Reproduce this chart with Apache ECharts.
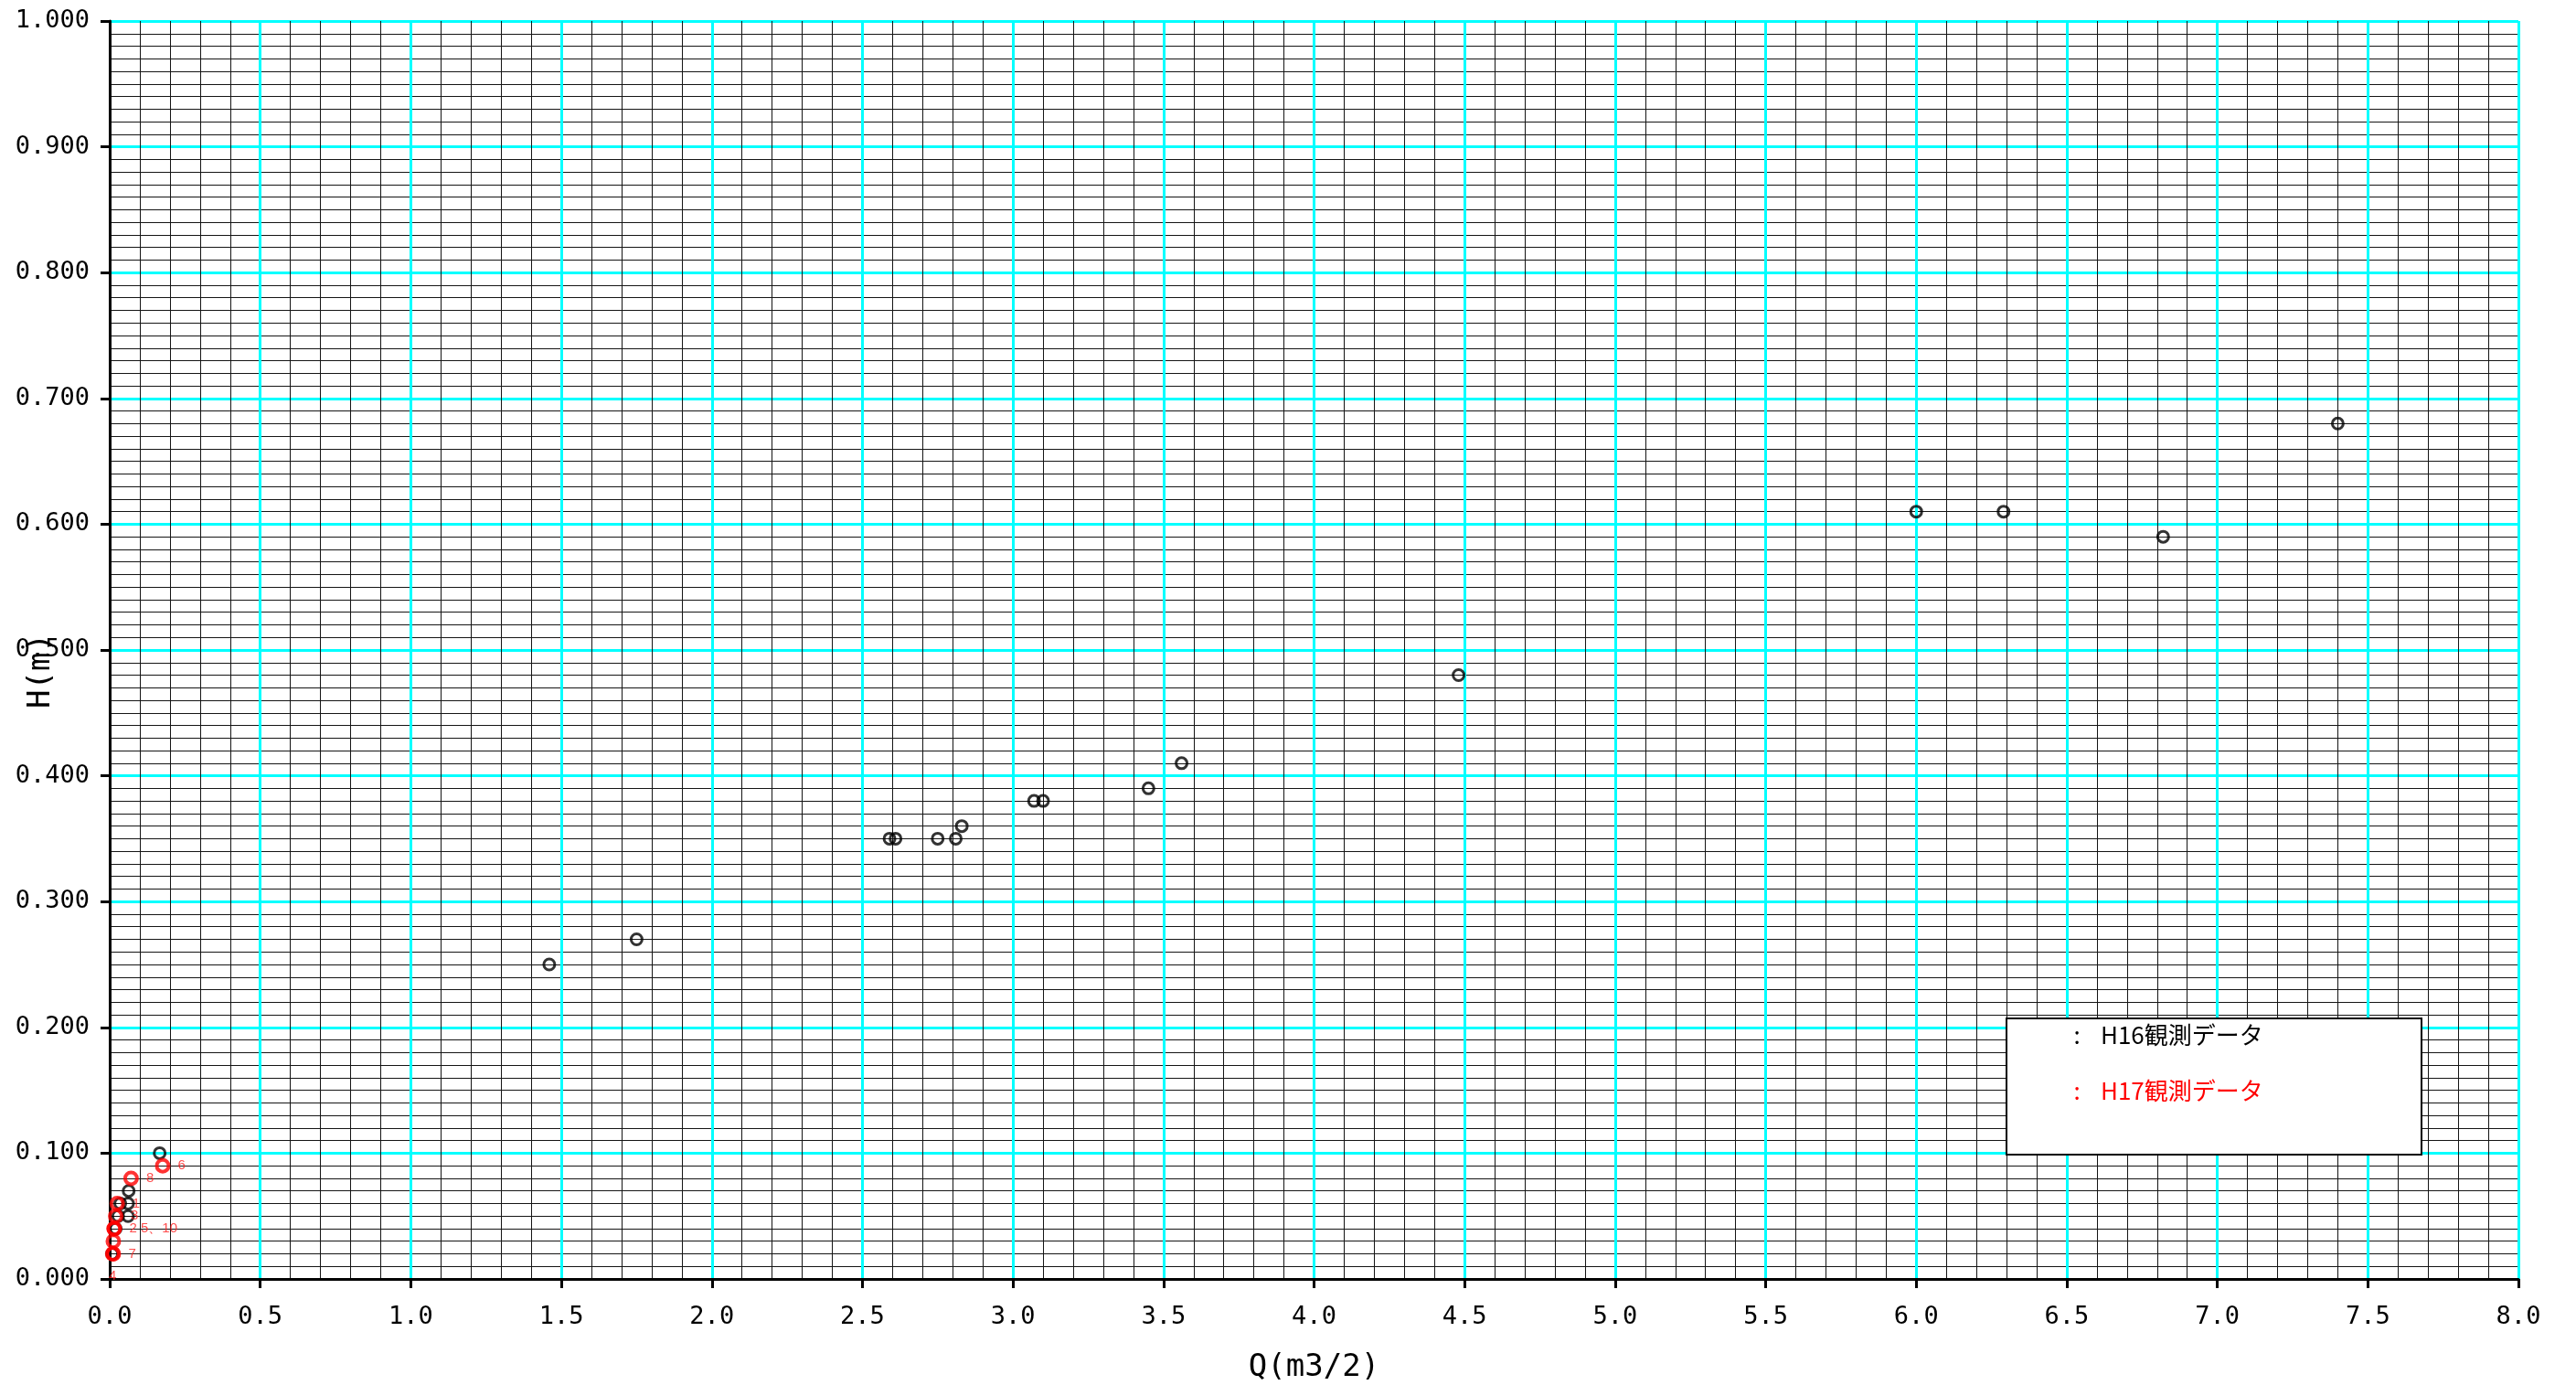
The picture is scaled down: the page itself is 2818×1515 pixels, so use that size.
<!DOCTYPE html>
<html>
<head>
<meta charset="utf-8">
<script src="https://cdn.jsdelivr.net/npm/echarts@6/dist/echarts.min.js"></script>
<style>html,body{margin:0;padding:0;background:#fff;}#c{width:2818px;height:1515px;}</style>
</head>
<body>
<div id="c"></div>
<script>
// H16 observed data (Q, H)
const h16Q = [1.46, 1.75, 2.59, 2.61, 2.75, 2.81, 2.83, 3.07, 3.10, 3.45, 3.56, 4.48, 6.00, 6.29, 6.82, 7.40, 0.166, 0.063, 0.035, 0.061, 0.028, 0.061, 0.02, 0.008];
const h16H = [0.25, 0.27, 0.35, 0.35, 0.35, 0.35, 0.36, 0.38, 0.38, 0.39, 0.41, 0.48, 0.61, 0.61, 0.59, 0.68, 0.10, 0.07, 0.06, 0.06, 0.05, 0.05, 0.04, 0.02];
// H17 observed data (Q, H) with point numbers
const h17Q = [0.025, 0.015, 0.02, 0.01, 0.015, 0.176, 0.012, 0.071, 0.012];
const h17H = [0.06, 0.04, 0.05, 0.02, 0.04, 0.09, 0.02, 0.08, 0.03];
const h17Labels = ['1', '2 5、10', '3', '4', '', '6', '7', '8', ''];
// axis settings
const xMin = 0, xMax = 8, xStep = 0.5;
const yMin = 0, yMax = 1, yStep = 0.1;
const xName = 'Q(m3/2)';
const yName = 'H(m)';
const legendNames = ['H16観測データ', 'H17観測データ'];

const chart = echarts.init(document.getElementById('c'), null, {renderer: 'canvas'});
const mono = '"DejaVu Sans Mono", "Liberation Mono", monospace';
const jp = '"Noto Sans CJK JP", "Noto Sans", sans-serif';

const s16 = h16Q.map((q, i) => [q, h16H[i]]);
const s17 = h17Q.map((q, i) => ({
  value: [q, h17H[i]],
  label: { formatter: h17Labels[i], position: h17Labels[i] === '4' ? 'bottom' : 'right' }
}));

chart.setOption({
  animation: false,
  backgroundColor: '#fff',
  grid: { left: 120, right: 63, top: 23, bottom: 116, containLabel: false, outerBoundsMode: 'none' },
  xAxis: {
    type: 'value', min: xMin, max: xMax, interval: xStep,
    name: xName, nameLocation: 'middle', nameGap: 80,
    nameTextStyle: { fontFamily: mono, fontSize: 34, color: '#000' },
    axisLine: { show: true, onZero: false, lineStyle: { color: '#000', width: 3 } },
    axisTick: { show: true, inside: false, length: 10, lineStyle: { color: '#000', width: 3 } },
    axisLabel: { margin: 28, fontFamily: mono, fontSize: 27, color: '#000', formatter: v => v.toFixed(1) },
    splitLine: { show: true, lineStyle: { color: '#00ffff', width: 3 } },
    minorTick: { show: false, splitNumber: 5 },
    minorSplitLine: { show: true, lineStyle: { color: '#151515', width: 1 } }
  },
  yAxis: {
    type: 'value', min: yMin, max: yMax, interval: yStep,
    axisLine: { show: true, onZero: false, lineStyle: { color: '#000', width: 3 } },
    axisTick: { show: true, inside: false, length: 10, lineStyle: { color: '#000', width: 3 } },
    axisLabel: { margin: 22, fontFamily: mono, fontSize: 27, color: '#000', formatter: v => v.toFixed(3) },
    splitLine: { show: true, lineStyle: { color: '#00ffff', width: 3 } },
    minorTick: { show: false, splitNumber: 10 },
    minorSplitLine: { show: true, lineStyle: { color: '#151515', width: 1 } }
  },
  series: [
    {
      name: legendNames[0], type: 'scatter', data: s16, symbol: 'circle', symbolSize: 12,
      itemStyle: { color: 'rgba(0,0,0,0)', borderColor: '#000', borderWidth: 3 }, z: 3
    },
    {
      name: legendNames[1], type: 'scatter', data: s17, symbol: 'circle', symbolSize: 13,
      itemStyle: { color: 'rgba(0,0,0,0)', borderColor: '#ff0000', borderWidth: 4 },
      label: { show: true, color: '#ff2020', fontSize: 15, fontFamily: '"Liberation Sans", Arial, sans-serif', distance: 8 },
      z: 4
    }
  ],
  graphic: [
    {
      type: 'text', x: 45, y: 734, rotation: Math.PI / 2, z: 30,
      style: { text: yName, fontFamily: mono, fontSize: 34, fill: '#000', textAlign: 'center', textVerticalAlign: 'middle' }
    },
    { type: 'rect', z: 30, shape: { x: 2195, y: 1114, width: 454, height: 149 }, style: { fill: '#ffffff', stroke: '#000', lineWidth: 2 } },
    { type: 'text', z: 31, x: 2272, y: 1132, style: { text: ':', fontSize: 26, fill: '#000', textAlign: 'center', textVerticalAlign: 'middle', fontFamily: jp } },
    { type: 'text', z: 31, x: 2298, y: 1132, style: { text: legendNames[0], fontSize: 26, fill: '#000', textVerticalAlign: 'middle', fontFamily: jp } },
    { type: 'text', z: 31, x: 2272, y: 1193, style: { text: ':', fontSize: 26, fill: '#ff0000', textAlign: 'center', textVerticalAlign: 'middle', fontFamily: jp } },
    { type: 'text', z: 31, x: 2298, y: 1193, style: { text: legendNames[1], fontSize: 26, fill: '#ff0000', textVerticalAlign: 'middle', fontFamily: jp } }
  ]
});
</script>
</body>
</html>
